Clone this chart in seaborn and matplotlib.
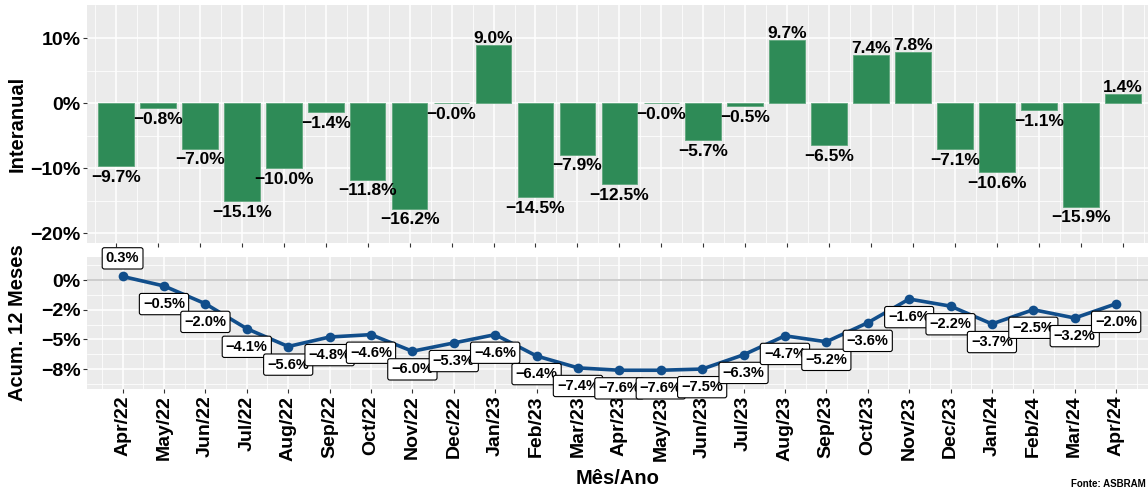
import matplotlib
matplotlib.use("Agg")
import matplotlib.pyplot as plt
from matplotlib.ticker import FixedLocator
import seaborn as sns
import pandas as pd

# Monthly labels, Apr/22 .. Apr/24
months = ["Apr/22", "May/22", "Jun/22", "Jul/22", "Aug/22", "Sep/22", "Oct/22",
          "Nov/22", "Dec/22", "Jan/23", "Feb/23", "Mar/23", "Apr/23", "May/23",
          "Jun/23", "Jul/23", "Aug/23", "Sep/23", "Oct/23", "Nov/23", "Dec/23",
          "Jan/24", "Feb/24", "Mar/24", "Apr/24"]

# Year-over-year change (%)
interanual = [-9.7, -0.8, -7.0, -15.1, -10.0, -1.4, -11.8, -16.2, -0.04, 9.0,
              -14.5, -7.9, -12.5, -0.04, -5.7, -0.5, 9.7, -6.5, 7.4, 7.8,
              -7.1, -10.6, -1.1, -15.9, 1.4]

# Accumulated 12-month change (%)
acum12 = [0.3, -0.5, -2.0, -4.1, -5.6, -4.8, -4.6, -6.0, -5.3, -4.6,
          -6.4, -7.4, -7.6, -7.6, -7.5, -6.3, -4.7, -5.2, -3.6, -1.6,
          -2.2, -3.7, -2.5, -3.2, -2.0]

top_ticks = [10, 0, -10, -20]
top_ticklabels = ["10%", "0%", "−10%", "−20%"]
bottom_ticks = [0, -2.5, -5, -7.5]
bottom_ticklabels = ["0%", "−2%", "−5%", "−8%"]

BAR = "#2E8B57"
LINE = "#114E8B"
PANEL = "#EBEBEB"

sns.set_theme(style="darkgrid")
plt.rcParams.update({
    "font.family": ["Liberation Sans", "DejaVu Sans"],
    "font.weight": "bold",
    "text.color": "black",
    "axes.labelcolor": "black",
    "axes.facecolor": PANEL,
    "axes.edgecolor": PANEL,
    "grid.color": "white",
    "xtick.color": "#333333",
    "ytick.color": "#333333",
    "xtick.labelcolor": "black",
    "ytick.labelcolor": "black",
})

df = pd.DataFrame({"mes": months, "interanual": interanual, "acum12": acum12,
                   "pos": range(len(months))})


def pct(v):
    return f"{v:.1f}%".replace("-", "−")


def style_axis(ax, yticks, yminor, xmin, xmax):
    n = len(months)
    ax.set_xlim(xmin, xmax)
    ax.xaxis.set_major_locator(FixedLocator(range(n)))
    ax.xaxis.set_minor_locator(FixedLocator([i - 0.5 for i in range(n + 1)]))
    ax.yaxis.set_major_locator(FixedLocator(yticks))
    ax.yaxis.set_minor_locator(FixedLocator(yminor))
    ax.grid(which="major", color="white", linewidth=1.1)
    ax.grid(which="minor", color="white", linewidth=0.55)
    ax.tick_params(which="major", length=2.8, width=0.8, color="#333333",
                   labelsize=14, pad=2, bottom=True, left=True)
    ax.tick_params(which="minor", length=0)
    for s in ax.spines.values():
        s.set_visible(False)
    ax.set_axisbelow(True)


fig = plt.figure(figsize=(11.48, 4.9), dpi=100)
W, H = 1148, 490
ax1 = fig.add_axes([87 / W, 1 - 243 / H, (W - 87) / W, (243 - 5) / H])
ax2 = fig.add_axes([87 / W, 1 - 389 / H, (W - 87) / W, (389 - 257) / H])

# --- Year-over-year bars ---
sns.barplot(data=df, x="pos", y="interanual", color=BAR, saturation=1,
            width=0.85, ax=ax1, edgecolor="#5fa77d", linewidth=0.6,
            native_scale=True)
style_axis(ax1, top_ticks, [5, -5, -15], -0.69, 24.6)
ax1.set_ylim(-21.5, 15.1)
ax1.set_yticklabels(top_ticklabels, fontweight="bold")
ax1.set_xticklabels([])
ax1.set_xlabel("")
ax1.set_ylabel("Interanual", fontsize=14.5, fontweight="bold")
for i, v in enumerate(df["interanual"]):
    if v < 0:
        ax1.annotate(pct(v), (i, v), xytext=(0, -2.5), textcoords="offset points",
                     ha="center", va="top", fontsize=12.5, fontweight="bold",
                     color="black")
    else:
        ax1.annotate(pct(v), (i, v), xytext=(0, 1.5), textcoords="offset points",
                     ha="center", va="baseline", fontsize=12.5, fontweight="bold",
                     color="black")

# --- Accumulated 12-month line ---
ax2.axhline(0, color="#C4C4C4", linewidth=1.2, zorder=1)
sns.lineplot(data=df, x="pos", y="acum12", color=LINE, linewidth=2.6,
             marker="o", markersize=7, markeredgewidth=0, ax=ax2, zorder=3)
style_axis(ax2, bottom_ticks, [1.25, -1.25, -3.75, -6.25, -8.75], -0.86, 24.77)
ax2.set_ylim(-9.18, 1.94)
ax2.set_yticklabels(bottom_ticklabels, fontweight="bold")
ax2.set_xticklabels(months, rotation=90, fontweight="bold")
ax2.set_xlabel("Mês/Ano", fontsize=14.5, fontweight="bold", labelpad=6)
ax2.set_ylabel("Acum. 12 Meses", fontsize=14.5, fontweight="bold")
for i, v in enumerate(df["acum12"]):
    dy = 8 if v >= 0 else -8
    ax2.annotate(pct(v), (i, v), xytext=(0, dy), textcoords="offset points",
                 ha="center", va="bottom" if v >= 0 else "top",
                 fontsize=10.5, fontweight="bold", zorder=5, color="black",
                 bbox=dict(boxstyle="round,pad=0.25,rounding_size=0.15",
                           fc="white", ec="black", lw=0.8))

ax1.yaxis.set_label_coords(-0.057, 0.5)
ax2.yaxis.set_label_coords(-0.057, 0.5)

fig.text(1146 / W, 1 - 489 / H, "Fonte: ASBRAM", fontsize=7, fontweight="bold",
         ha="right", va="bottom", color="black")

fig.savefig("out.png", dpi=100)
